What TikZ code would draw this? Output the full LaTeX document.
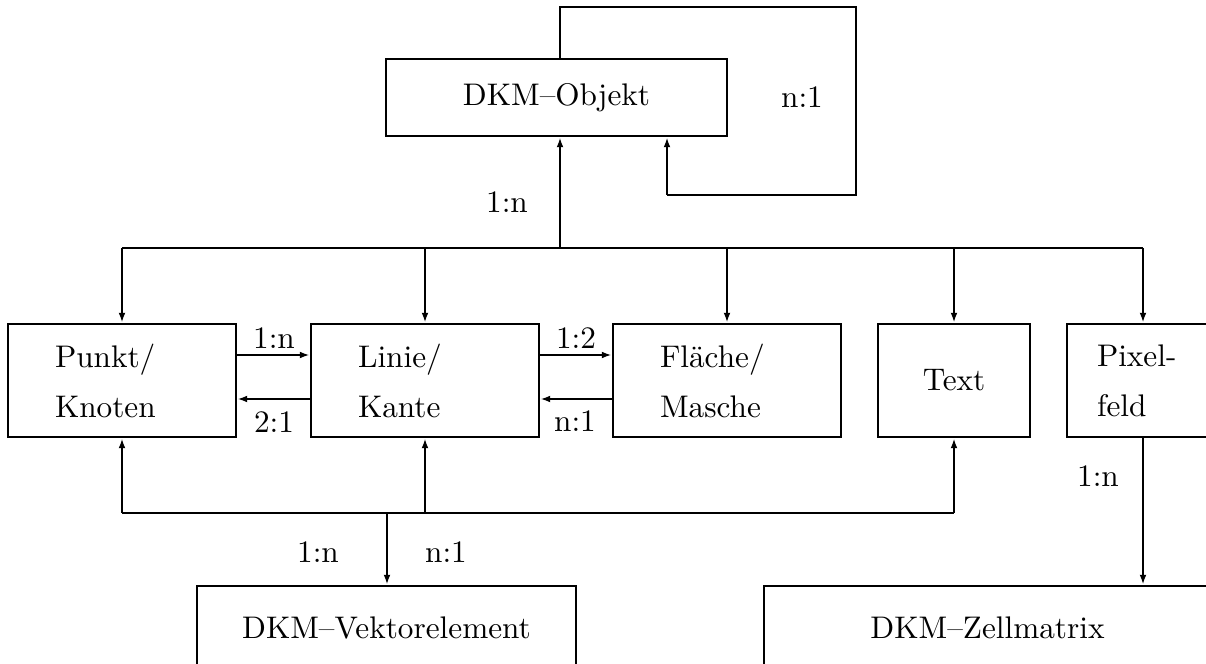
\documentclass[tikz,border=0pt]{standalone}
\usetikzlibrary{arrows.meta}
\begin{document}
\begin{tikzpicture}[x=0.32pt,y=-0.32pt,
  box/.style={draw, line width=0.8pt, inner ysep=0pt, minimum height=36.16pt, anchor=center},
  twoline/.style={box, align=left, inner xsep=15.04pt, text width=42.88pt},
  arr/.style={line width=0.7pt, -{Latex[length=3.2pt,width=2.2pt]}},
  bus/.style={line width=0.5pt},
  lbl/.style={anchor=base, inner sep=0pt}
]
\useasboundingbox (0,0) rectangle (1206,664);
\clip (0,0) rectangle (1206,664);

% entity boxes
\node[box, minimum width=109.12pt, minimum height=24.64pt] (obj) at (556.5,97.5) {DKM--Objekt};
\node[twoline] (punkt) at (122,380.5) {Punkt/\\[4pt]Knoten};
\node[twoline] (linie) at (425,380.5) {Linie/\\[4pt]Kante};
\node[twoline] (flaeche) at (727,380.5) {Fl\"ache/\\[4pt]Masche};
\node[box, minimum width=48.64pt] (text) at (954,380.5) {Text};
\node[twoline, inner xsep=9.6pt, text width=53.76pt] (pixel) at (1181,380.5) {Pixel-\\[4pt]feld};
\node[box, minimum width=121.28pt, minimum height=26.88pt] (vekt) at (386.5,628) {DKM--Vektorelement};
\node[box, minimum width=143.04pt, minimum height=26.88pt] (zell) at (987.5,628) {DKM--Zellmatrix};

% self relation of DKM-Objekt
\coordinate (loopTop) at (560,7);
\coordinate (loopR) at (856,195);
\coordinate (loopIn) at (667,195);
\draw[bus] (loopTop |- obj.north) -- (loopTop) -| (loopR) -- (loopIn);
\draw[arr] (loopIn) -- (loopIn |- obj.south);

% upper distribution line
\coordinate (objIn) at (560,248);
\coordinate (busL) at (122,248);
\coordinate (busR) at (1143,248);
\draw[bus] (busL) -- (busR);
\draw[arr] (objIn) -- (objIn |- obj.south);
\draw[arr] (busL) -- (busL |- punkt.north);
\draw[arr] (linie.north |- busL) -- (linie.north);
\draw[arr] (flaeche.north |- busL) -- (flaeche.north);
\draw[arr] (text.north |- busL) -- (text.north);
\draw[arr] (busR) -- (busR |- pixel.north);

% relations between the geometry boxes
\coordinate (hiY) at (0,355);
\coordinate (loY) at (0,399);
\draw[arr] (punkt.east |- hiY) -- (linie.west |- hiY);
\draw[arr] (linie.west |- loY) -- (punkt.east |- loY);
\draw[arr] (linie.east |- hiY) -- (flaeche.west |- hiY);
\draw[arr] (flaeche.west |- loY) -- (linie.east |- loY);

% lower collection line
\coordinate (lbL) at (122,513);
\coordinate (lbR) at (954,513);
\coordinate (lbV) at (387,513);
\draw[bus] (lbL) -- (lbR);
\draw[arr] (lbL) -- (punkt.south);
\draw[arr] (linie.south |- lbL) -- (linie.south);
\draw[arr] (lbR) -- (text.south);
\draw[arr] (lbV) -- (lbV |- vekt.north);
\draw[arr] (pixel.south -| busR) -- (zell.north -| busR);

% cardinalities
\node[lbl] (c1) at (507,213) {1:n};
\node[lbl] (c2) at (802,108) {n:1};
\node[lbl] (c3) at (274,349) {1:n};
\node[lbl] (c4) at (274,433) {2:1};
\node[lbl] (c5) at (576,349) {1:2};
\node[lbl] (c6) at (575,432) {n:1};
\node[lbl] (c7) at (318,562) {1:n};
\node[lbl] (c8) at (446,562) {n:1};
\node[lbl] (c9) at (1098,486) {1:n};
\end{tikzpicture}
\end{document}
